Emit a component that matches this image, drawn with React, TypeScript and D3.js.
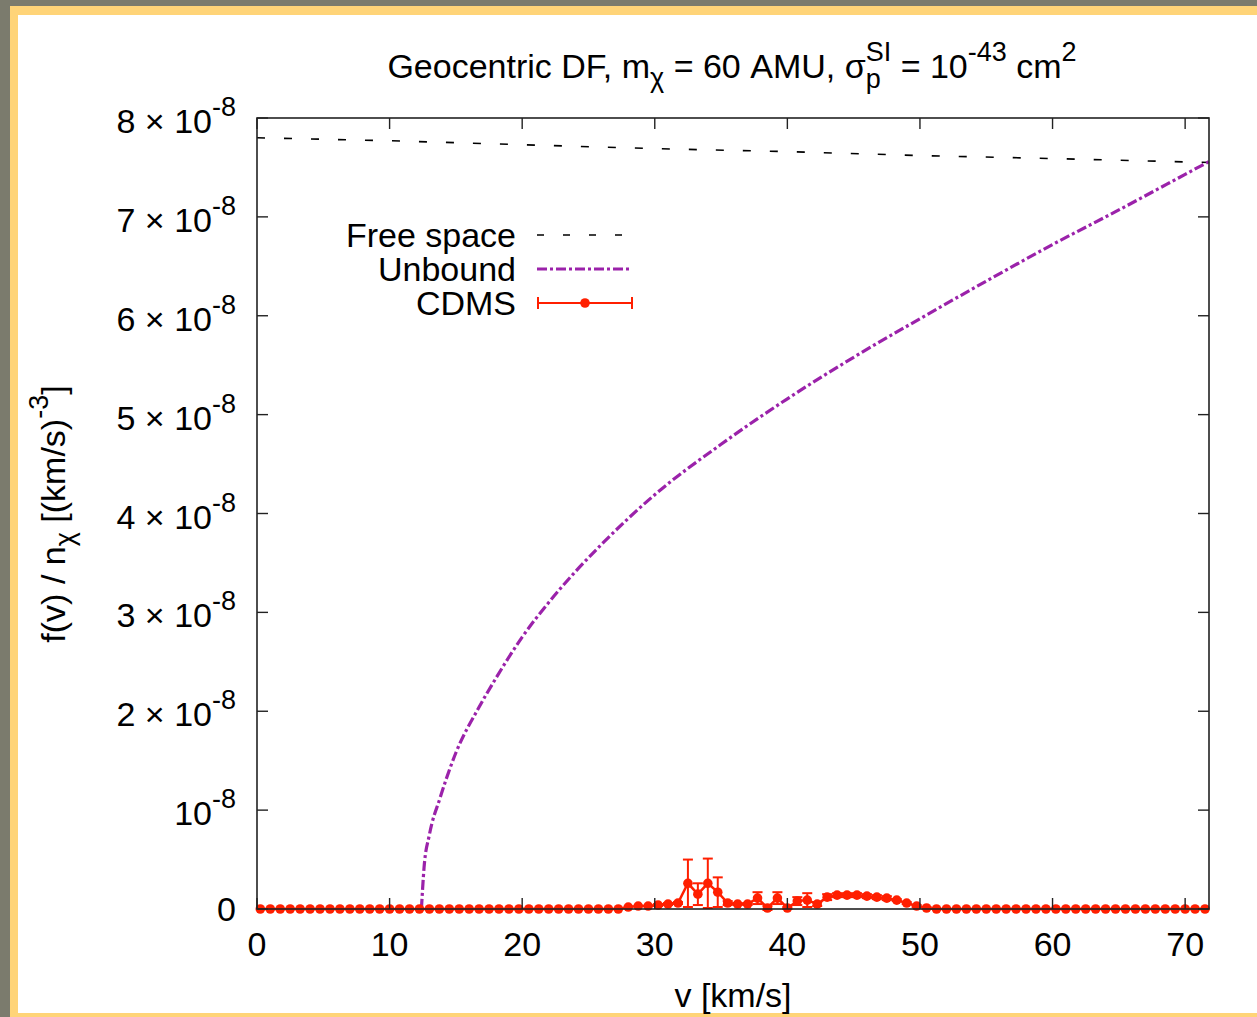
import React from "react";
import * as d3 from "d3";

// all f(v) values are in units of 1e-8 (km/s)^-3
const xTicks = [0, 10, 20, 30, 40, 50, 60, 70];
const yTicks = [0, 1, 2, 3, 4, 5, 6, 7, 8];

const freeV = [0, 10, 20, 30, 40, 50, 60, 71.8];
const freeF = [7.8, 7.77, 7.73, 7.69, 7.66, 7.62, 7.59, 7.55];

const unboundV = [12.4, 12.6, 13.0, 13.8, 15, 16.7, 18, 20, 22, 24, 26, 28, 30, 35, 40, 45, 50, 55, 60, 65, 70, 71.8];
const unboundF = [0, 0.42, 0.75, 1.12, 1.58, 2.03, 2.33, 2.75, 3.1, 3.41, 3.69, 3.95, 4.19, 4.7, 5.16, 5.58, 5.97, 6.35, 6.72, 7.07, 7.43, 7.56];

const cdmsV = [
  0.25, 1, 1.75, 2.5, 3.25, 4, 4.75, 5.5, 6.25, 7, 7.75, 8.5, 9.25, 10, 10.75, 11.5, 12.25, 13, 13.75,
  14.5, 15.25, 16, 16.75, 17.5, 18.25, 19, 19.75, 20.5, 21.25, 22, 22.75, 23.5, 24.25, 25, 25.75, 26.5,
  27.25, 28, 28.75, 29.5, 30.25, 31, 31.75, 32.5, 33.25, 34, 34.75, 35.5, 36.25, 37, 37.75, 38.5, 39.25,
  40, 40.75, 41.5, 42.25, 43, 43.75, 44.5, 45.25, 46, 46.75, 47.5, 48.25, 49, 49.75, 50.5, 51.25, 52,
  52.75, 53.5, 54.25, 55, 55.75, 56.5, 57.25, 58, 58.75, 59.5, 60.25, 61, 61.75, 62.5, 63.25, 64, 64.75,
  65.5, 66.25, 67, 67.75, 68.5, 69.25, 70, 70.75, 71.5,
];
const cdmsF = [
  0, 0, 0, 0, 0, 0, 0, 0, 0, 0, 0, 0, 0, 0, 0, 0, 0, 0, 0,
  0, 0, 0, 0, 0, 0, 0, 0, 0, 0, 0, 0, 0, 0, 0, 0, 0,
  0, 0.02, 0.03, 0.03, 0.04, 0.05, 0.06, 0.26, 0.15, 0.26, 0.17, 0.06, 0.05, 0.05, 0.11, 0.01, 0.11,
  0.01, 0.08, 0.09, 0.05, 0.12, 0.14, 0.14, 0.14, 0.13, 0.12, 0.11, 0.09, 0.06, 0.03, 0.01, 0, 0,
  0, 0, 0, 0, 0, 0, 0, 0, 0, 0, 0, 0, 0, 0, 0, 0, 0,
  0, 0, 0, 0, 0, 0, 0, 0, 0,
];
const cdmsErr = [
  0, 0, 0, 0, 0, 0, 0, 0, 0, 0, 0, 0, 0, 0, 0, 0, 0, 0, 0,
  0, 0, 0, 0, 0, 0, 0, 0, 0, 0, 0, 0, 0, 0, 0, 0, 0,
  0, 0, 0, 0, 0.01, 0.01, 0.01, 0.24, 0.11, 0.25, 0.15, 0.02, 0.01, 0.01, 0.06, 0.02, 0.06,
  0.01, 0.04, 0.07, 0.02, 0.03, 0.02, 0.02, 0.02, 0.02, 0.02, 0.02, 0.01, 0.01, 0.01, 0.01, 0, 0,
  0, 0, 0, 0, 0, 0, 0, 0, 0, 0, 0, 0, 0, 0, 0, 0, 0,
  0, 0, 0, 0, 0, 0, 0, 0, 0,
];

const RED = "#ff1f00";
const PURPLE = "#9b22aa";
const FONT = "'Liberation Sans', Arial, sans-serif";
const FS = 34;
const SS = 27;

export default function App() {
  const x = d3.scaleLinear().domain([0, 71.8]).range([257, 1209]);
  const y = d3.scaleLinear().domain([0, 8]).range([909, 118]);

  const line = d3.line<[number, number]>().x(d => x(d[0])).y(d => y(d[1]));
  const smooth = d3.line<[number, number]>().x(d => x(d[0])).y(d => y(d[1])).curve(d3.curveMonotoneX);

  const freePts = freeV.map((v, i) => [v, freeF[i]] as [number, number]);
  const unbPts = unboundV.map((v, i) => [v, unboundF[i]] as [number, number]);
  const cdmsPts = cdmsV.map((v, i) => [v, cdmsF[i]] as [number, number]);

  const [x0, x1] = x.range();
  const [yb, yt] = y.range();
  const tl = 11;

  return (
    <svg width={1257} height={1017} style={{ position: "absolute", left: 0, top: 0 }} fontFamily={FONT}>
      <rect width={1257} height={1017} fill="#7b7b6d" />
      <rect x={10} y={6} width={1247} height={1011} fill="#ffd478" />
      <rect x={18} y={15} width={1239} height={998} fill="#fff" />

      {/* title */}
      <text x={732} y={78} textAnchor="middle" fontSize={FS}>
        {"Geocentric DF, m"}
        <tspan dy={9} fontSize={SS}>χ</tspan>
        <tspan dy={-9}>{" = 60 AMU, σ"}</tspan>
        <tspan dy={-17} fontSize={SS}>SI</tspan>
        <tspan dx={-25.5} dy={27} fontSize={SS}>p</tspan>
        <tspan dx={10.5} dy={-10}>{" = 10"}</tspan>
        <tspan dy={-17} fontSize={SS}>-43</tspan>
        <tspan dy={17}>{" cm"}</tspan>
        <tspan dy={-17} fontSize={SS}>2</tspan>
      </text>

      {/* free space */}
      <path d={line(freePts) || ""} fill="none" stroke="#000" strokeWidth={1.6} strokeDasharray="8,19" />
      {/* unbound */}
      <path d={smooth(unbPts) || ""} fill="none" stroke={PURPLE} strokeWidth={3.2} strokeDasharray="10,3,3,3" />

      {/* CDMS */}
      <path d={line(cdmsPts) || ""} fill="none" stroke={RED} strokeWidth={2.5} />
      {cdmsPts.map((d, i) =>
        cdmsErr[i] > 0 ? (
          <g key={"e" + i} stroke={RED} strokeWidth={2}>
            <line x1={x(d[0])} x2={x(d[0])} y1={y(d[1] - cdmsErr[i])} y2={y(d[1] + cdmsErr[i])} />
            <line x1={x(d[0]) - 5} x2={x(d[0]) + 5} y1={y(d[1] + cdmsErr[i])} y2={y(d[1] + cdmsErr[i])} />
            <line x1={x(d[0]) - 5} x2={x(d[0]) + 5} y1={y(d[1] - cdmsErr[i])} y2={y(d[1] - cdmsErr[i])} />
          </g>
        ) : null
      )}
      {cdmsPts.map((d, i) => (
        <circle key={"c" + i} cx={x(d[0])} cy={y(d[1])} r={4.8} fill={RED} />
      ))}

      {/* border and ticks */}
      <rect x={x0} y={yt} width={x1 - x0} height={yb - yt} fill="none" stroke="#222" strokeWidth={1.6} />
      {xTicks.map(t => (
        <g key={"xt" + t} stroke="#222" strokeWidth={1.4}>
          <line x1={x(t)} x2={x(t)} y1={yb} y2={yb - tl} />
          <line x1={x(t)} x2={x(t)} y1={yt} y2={yt + tl} />
        </g>
      ))}
      {yTicks.map(t => (
        <g key={"yt" + t} stroke="#222" strokeWidth={1.4}>
          <line x1={x0} x2={x0 + tl} y1={y(t)} y2={y(t)} />
          <line x1={x1} x2={x1 - tl} y1={y(t)} y2={y(t)} />
        </g>
      ))}

      {/* tick labels */}
      {xTicks.map(t => (
        <text key={"xl" + t} x={x(t)} y={956} textAnchor="middle" fontSize={FS}>{t}</text>
      ))}
      {yTicks.map(t =>
        t === 0 ? (
          <text key={"yl" + t} x={236} y={y(t) + 12} textAnchor="end" fontSize={FS}>0</text>
        ) : (
          <text key={"yl" + t} x={236} y={y(t) + 15} textAnchor="end" fontSize={FS}>
            {t === 1 ? "10" : `${t} × 10`}
            <tspan dy={-17} fontSize={SS}>-8</tspan>
          </text>
        )
      )}

      {/* axis titles */}
      <text x={733} y={1007} textAnchor="middle" fontSize={FS}>v [km/s]</text>
      <text transform="translate(65,514) rotate(-90)" textAnchor="middle" fontSize={FS}>
        {"f(v) / n"}
        <tspan dy={9} fontSize={SS}>χ</tspan>
        <tspan dy={-9}>{" [(km/s)"}</tspan>
        <tspan dy={-17} fontSize={SS}>-3</tspan>
        <tspan dy={17}>]</tspan>
      </text>

      {/* legend */}
      <g fontSize={FS} textAnchor="end">
        <text x={516} y={247}>Free space</text>
        <text x={516} y={281}>Unbound</text>
        <text x={516} y={315}>CDMS</text>
      </g>
      <line x1={537} x2={630} y1={235} y2={235} stroke="#000" strokeWidth={1.6} strokeDasharray="7,19" />
      <line x1={537} x2={631} y1={269} y2={269} stroke={PURPLE} strokeWidth={3.2} strokeDasharray="10,3,3,3" />
      <g stroke={RED} strokeWidth={2}>
        <line x1={538} x2={632} y1={303} y2={303} />
        <line x1={538} x2={538} y1={297} y2={309} />
        <line x1={632} x2={632} y1={297} y2={309} />
      </g>
      <circle cx={585} cy={303} r={4.8} fill={RED} />
    </svg>
  );
}
